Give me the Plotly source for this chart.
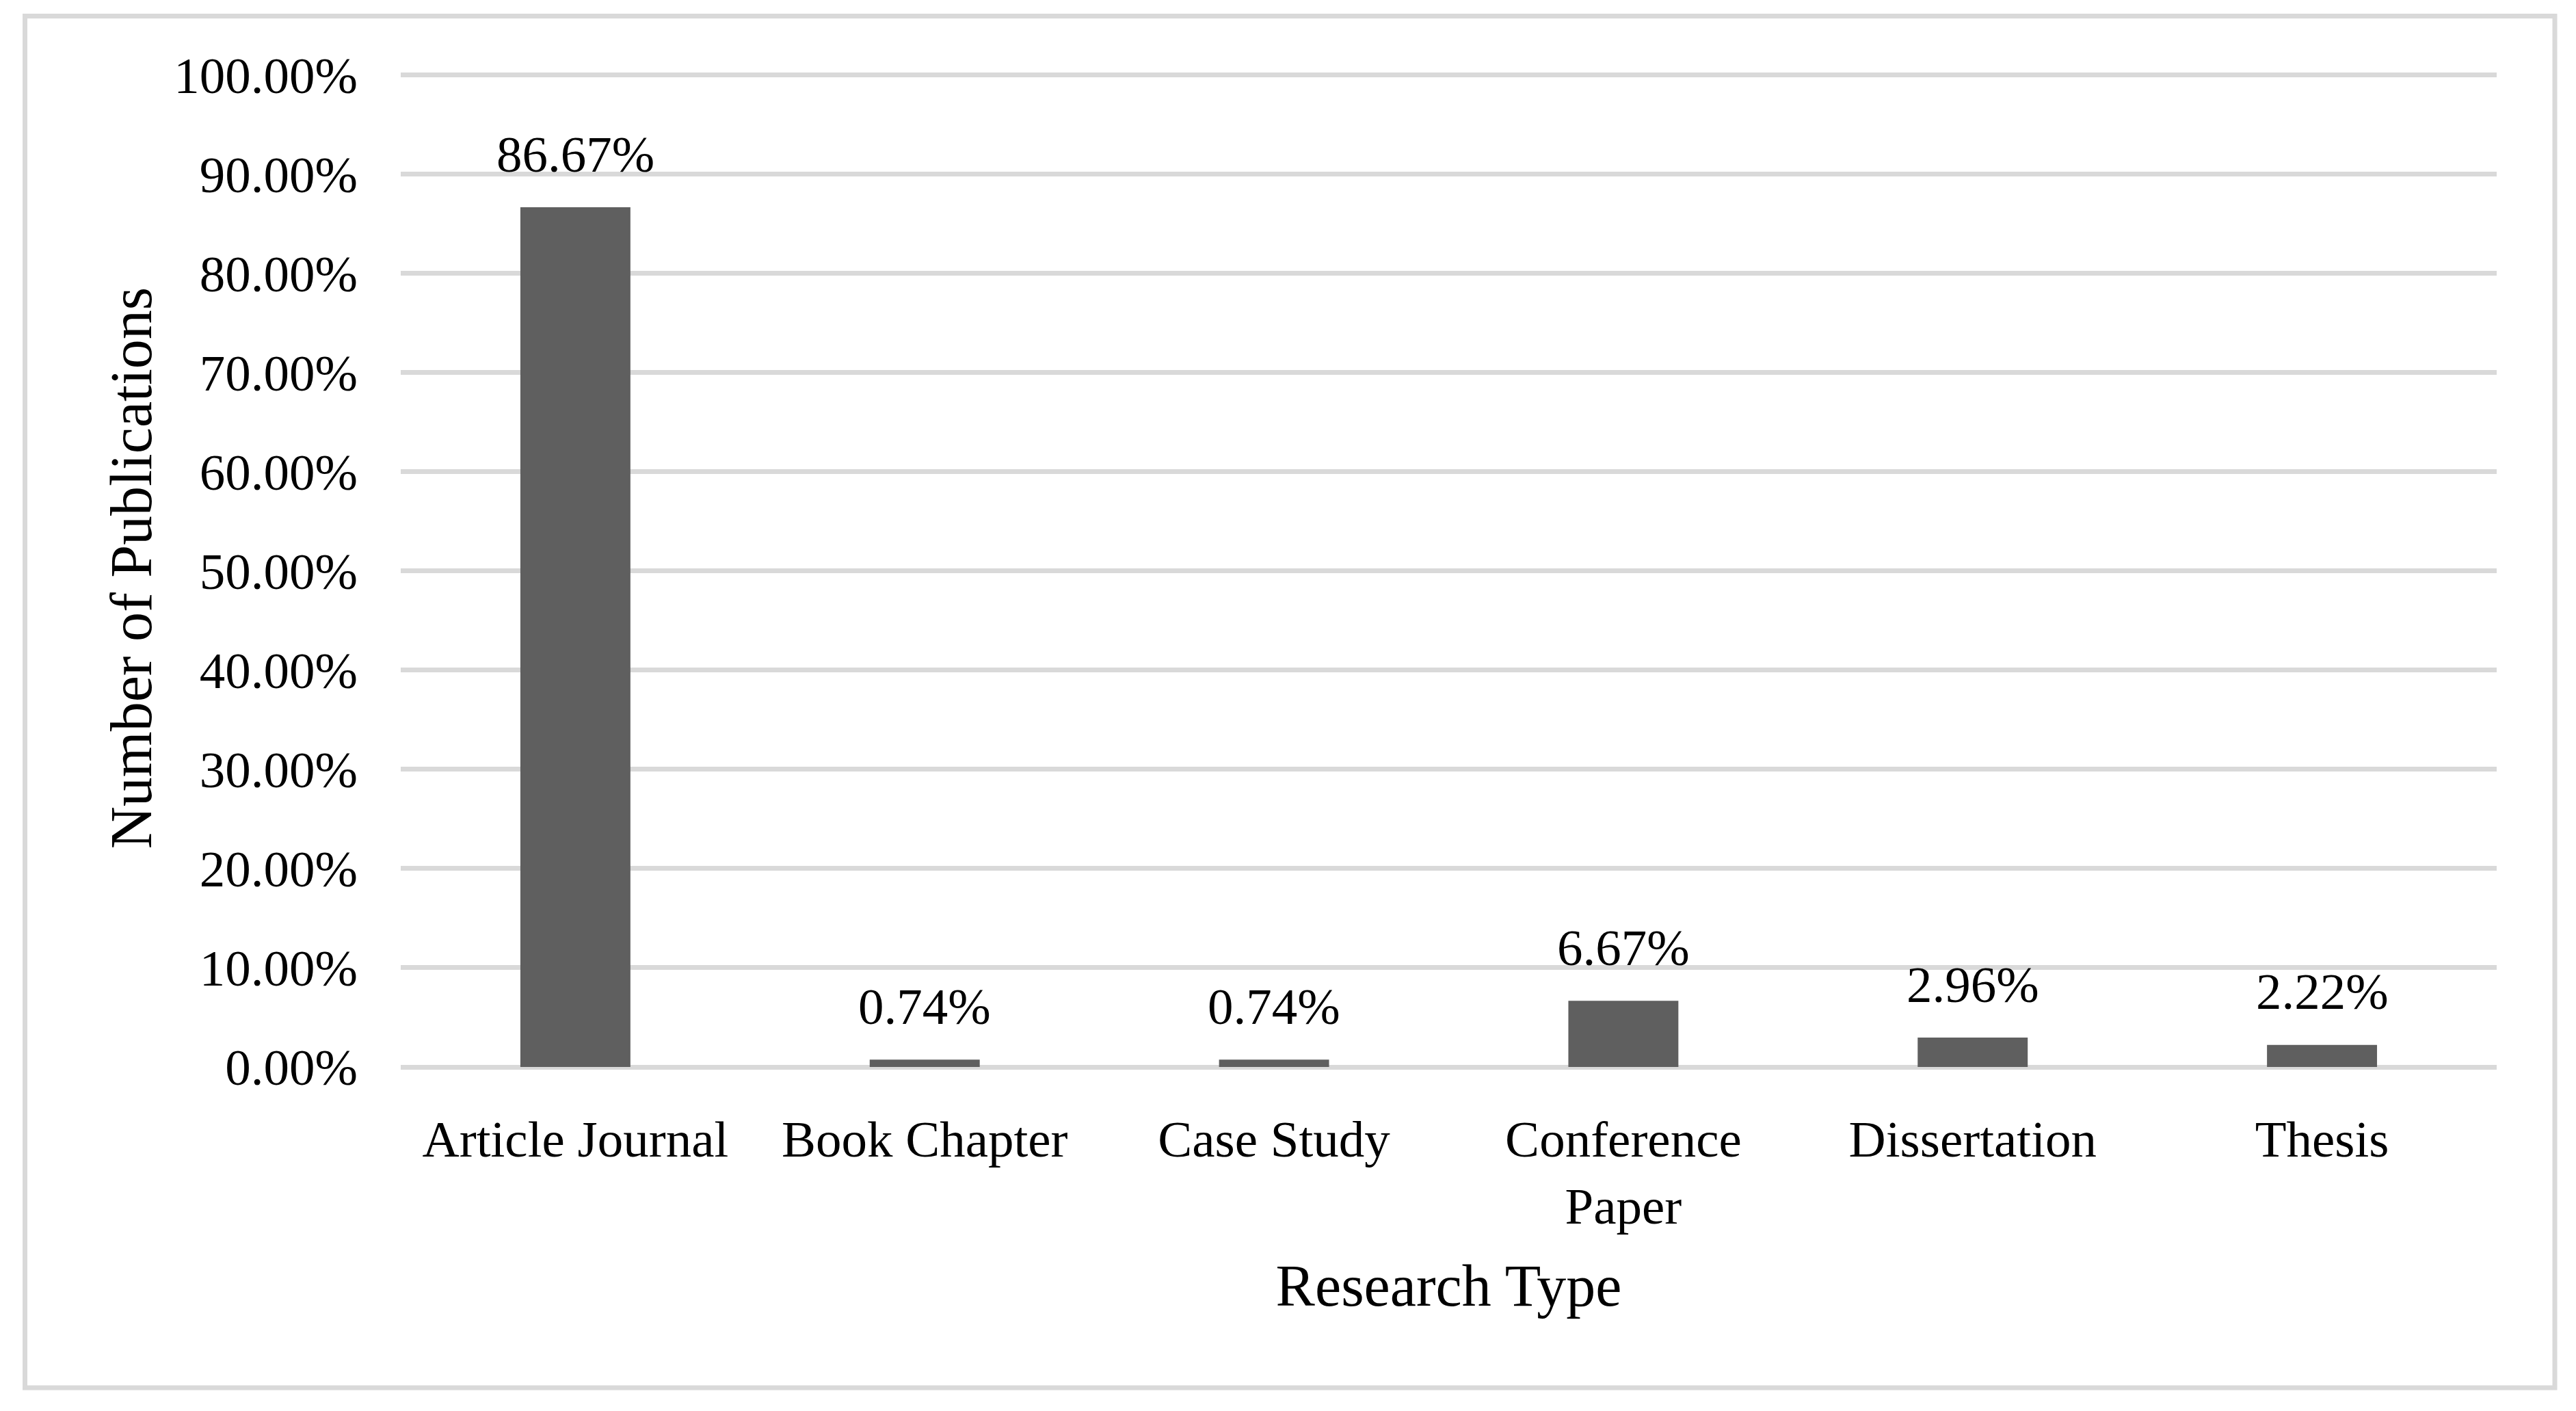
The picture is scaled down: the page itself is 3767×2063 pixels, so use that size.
import plotly.graph_objects as go

categories = ["Article Journal", "Book Chapter", "Case Study", "Conference<br>Paper", "Dissertation", "Thesis"]
values = [86.67, 0.74, 0.74, 6.67, 2.96, 2.22]
y_ticks = [0, 10, 20, 30, 40, 50, 60, 70, 80, 90, 100]
y_tick_labels = [f"{v:.2f}%" for v in y_ticks]
x_title = "Research Type"
y_title = "Number of Publications"

W, H = 3767, 2063
Y_MAX = 100.6
L, R, B = 586, 3651, 1560          # plot area pixels
PX_PER_UNIT = 14.5                 # 10% = 145 px
T = round(B - Y_MAX * PX_PER_UNIT)
FONT = "Liberation Serif, Times New Roman, serif"
GRID = "#d9d9d9"
BAR = "#5f5f5f"

fig = go.Figure()
fig.add_trace(go.Bar(x=categories, y=values, marker=dict(color=BAR, line=dict(width=0)),
                     width=0.315, hoverinfo="x+y"))

for c, v in zip(categories, values):
    fig.add_annotation(x=c, y=v, text=f"{v:.2f}%", showarrow=False, yanchor="middle",
                       yshift=78, font=dict(family=FONT, size=75, color="#000"))

pw, ph = R - L, B - T
def px_x(p):
    return (p - L) / pw
def px_y(p):
    return (B - p) / ph

fig.add_shape(type="rect", xref="paper", yref="paper",
              x0=px_x(36.5), x1=px_x(3736), y0=px_y(2029), y1=px_y(23.5),
              line=dict(color=GRID, width=7), fillcolor="rgba(0,0,0,0)", layer="below")

fig.update_layout(
    width=W, height=H,
    margin=dict(l=L, r=W - R, t=T, b=H - B, pad=0),
    paper_bgcolor="white", plot_bgcolor="white",
    showlegend=False,
    font=dict(family=FONT, size=75, color="#000"),
    bargap=0.685,
)
fig.update_xaxes(
    showline=False, showgrid=False, ticks="", ticklabelstandoff=55,
    tickfont=dict(family=FONT, size=75, color="#000"),
    title=dict(text=x_title, font=dict(family=FONT, size=86, color="#000"), standoff=45),
)
fig.update_yaxes(
    range=[0, Y_MAX], tickvals=y_ticks, ticktext=y_tick_labels,
    showgrid=True, gridcolor=GRID, gridwidth=7,
    zeroline=True, zerolinecolor=GRID, zerolinewidth=7,
    showline=False, ticks="", ticklabelstandoff=62,
    tickfont=dict(family=FONT, size=75, color="#000"),
    title=dict(text=y_title, font=dict(family=FONT, size=86, color="#000"), standoff=4),
)

fig.write_html("out.html", config={"displayModeBar": False},
               post_script="document.body.style.margin='0';")
